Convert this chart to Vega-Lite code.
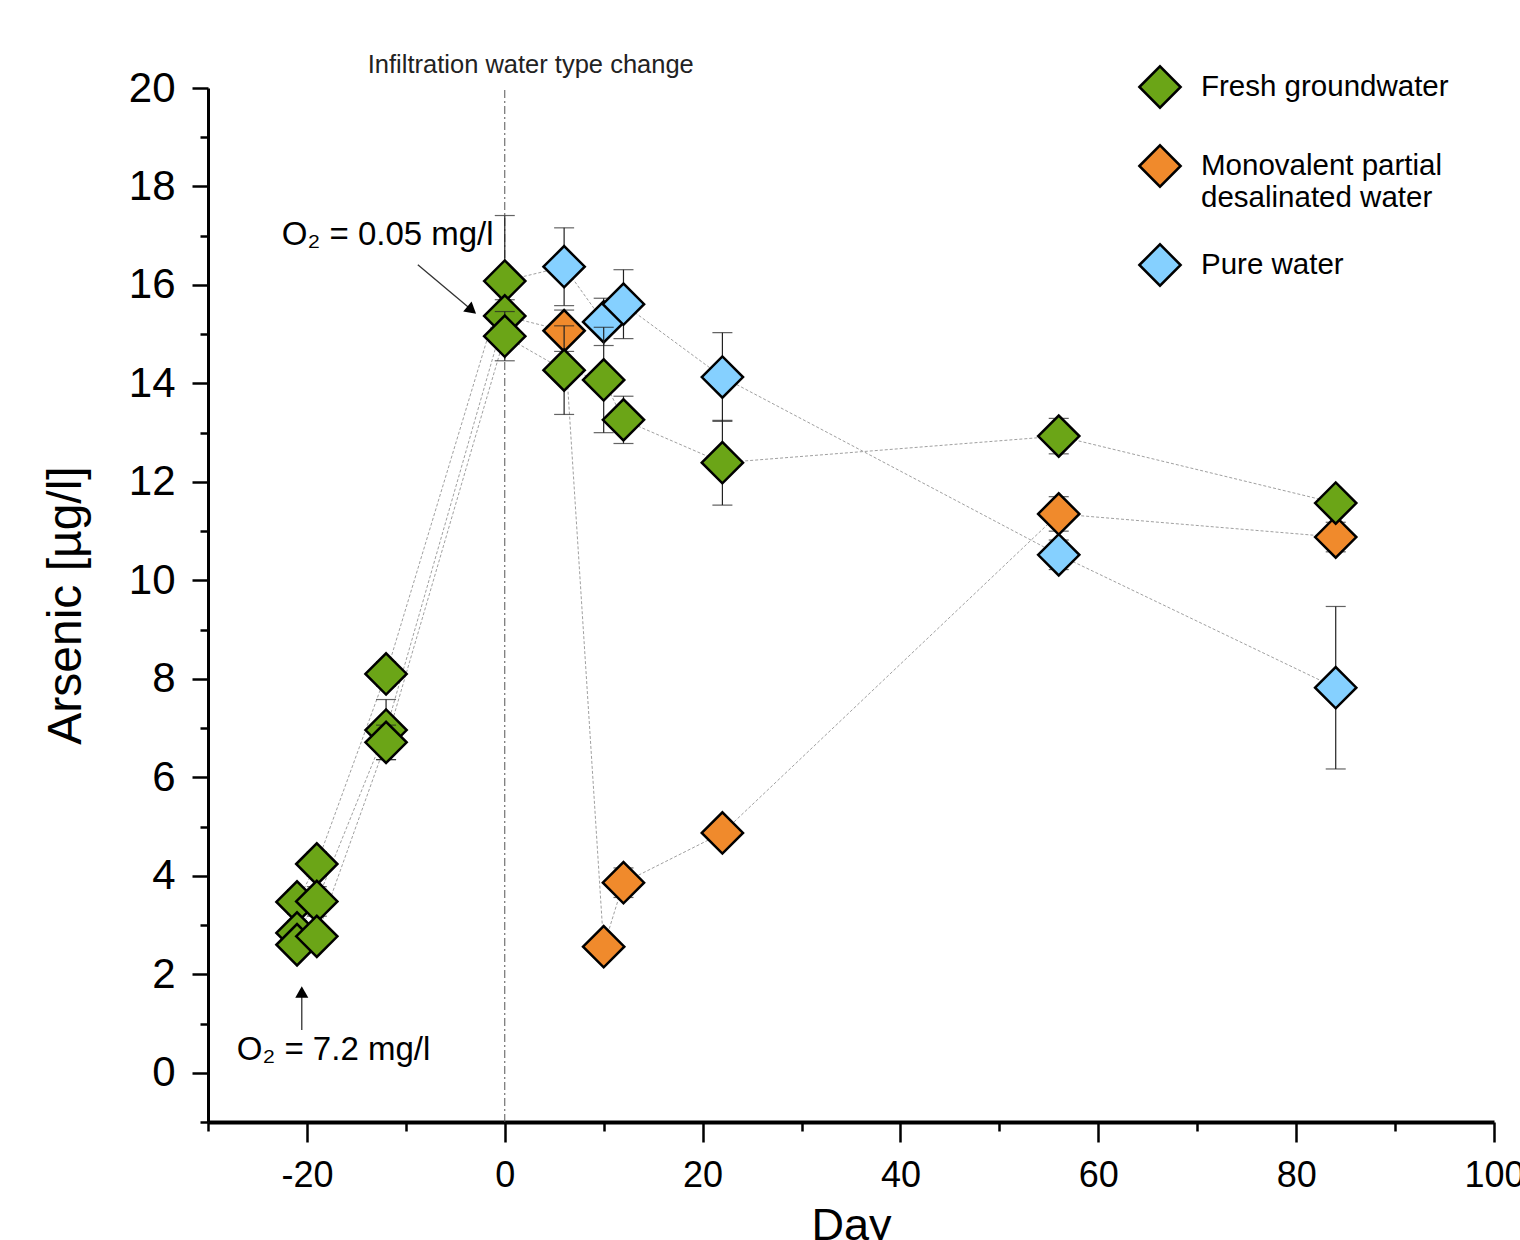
{
  "$schema": "https://vega.github.io/schema/vega-lite/v6.json",
  "width": 1286,
  "height": 1034,
  "autosize": "none",
  "padding": {"left": 208, "top": 88, "right": 26, "bottom": 118},
  "background": "white",
  "config": {"view": {"stroke": null}, "font": "Liberation Sans"},
  "datasets": {
    "obs": [
      {"series": "A", "type": "Fresh groundwater", "day": -21, "value": 3.47, "lo": 3.22, "hi": 3.72},
      {"series": "A", "type": "Fresh groundwater", "day": -19, "value": 4.24, "lo": 3.99, "hi": 4.49},
      {"series": "A", "type": "Fresh groundwater", "day": -12, "value": 8.10, "lo": 7.85, "hi": 8.35},
      {"series": "A", "type": "Fresh groundwater", "day": 0, "value": 16.08, "lo": 14.75, "hi": 17.41},
      {"series": "A", "type": "Pure water", "day": 6, "value": 16.37, "lo": 15.58, "hi": 17.16},
      {"series": "A", "type": "Pure water", "day": 10, "value": 15.25, "lo": 14.77, "hi": 15.73},
      {"series": "A", "type": "Pure water", "day": 12, "value": 15.61, "lo": 14.91, "hi": 16.31},
      {"series": "A", "type": "Pure water", "day": 22, "value": 14.13, "lo": 13.23, "hi": 15.03},
      {"series": "A", "type": "Pure water", "day": 56, "value": 10.52, "lo": 10.22, "hi": 10.82},
      {"series": "A", "type": "Pure water", "day": 84, "value": 7.82, "lo": 6.17, "hi": 9.47},
      {"series": "B", "type": "Fresh groundwater", "day": -21, "value": 2.84, "lo": 2.59, "hi": 3.09},
      {"series": "B", "type": "Fresh groundwater", "day": -19, "value": 3.48, "lo": 3.18, "hi": 3.78},
      {"series": "B", "type": "Fresh groundwater", "day": -12, "value": 6.96, "lo": 6.36, "hi": 7.58},
      {"series": "B", "type": "Fresh groundwater", "day": 0, "value": 15.37, "lo": 15.04, "hi": 15.70},
      {"series": "B", "type": "Monovalent partial desalinated water", "day": 6, "value": 15.07, "lo": 14.65, "hi": 15.49},
      {"series": "B", "type": "Monovalent partial desalinated water", "day": 10, "value": 2.56, "lo": 2.41, "hi": 2.71},
      {"series": "B", "type": "Monovalent partial desalinated water", "day": 12, "value": 3.86, "lo": 3.56, "hi": 4.16},
      {"series": "B", "type": "Monovalent partial desalinated water", "day": 22, "value": 4.87, "lo": 4.67, "hi": 5.07},
      {"series": "B", "type": "Monovalent partial desalinated water", "day": 56, "value": 11.35, "lo": 11.00, "hi": 11.70},
      {"series": "B", "type": "Monovalent partial desalinated water", "day": 84, "value": 10.88, "lo": 10.58, "hi": 11.18},
      {"series": "C", "type": "Fresh groundwater", "day": -21, "value": 2.60, "lo": 2.40, "hi": 2.80},
      {"series": "C", "type": "Fresh groundwater", "day": -19, "value": 2.77, "lo": 2.57, "hi": 2.97},
      {"series": "C", "type": "Fresh groundwater", "day": -12, "value": 6.71, "lo": 6.36, "hi": 7.06},
      {"series": "C", "type": "Fresh groundwater", "day": 0, "value": 14.96, "lo": 14.46, "hi": 15.46},
      {"series": "C", "type": "Fresh groundwater", "day": 6, "value": 14.27, "lo": 13.37, "hi": 15.17},
      {"series": "C", "type": "Fresh groundwater", "day": 10, "value": 14.07, "lo": 13.00, "hi": 15.14},
      {"series": "C", "type": "Fresh groundwater", "day": 12, "value": 13.26, "lo": 12.78, "hi": 13.74},
      {"series": "C", "type": "Fresh groundwater", "day": 22, "value": 12.39, "lo": 11.53, "hi": 13.25},
      {"series": "C", "type": "Fresh groundwater", "day": 56, "value": 12.93, "lo": 12.57, "hi": 13.29},
      {"series": "C", "type": "Fresh groundwater", "day": 84, "value": 11.57, "lo": 11.37, "hi": 11.77}
    ],
    "notes": [
      {"day": -22.54, "value": 17.02, "label": "O₂ = 0.05 mg/l"},
      {"day": -27.09, "value": 0.47, "label": "O₂ = 7.2 mg/l"}
    ],
    "arrows": [
      {"day": -8.79, "value": 16.41, "day2": -3.34, "value2": 15.49, "angle": 130},
      {"day": -20.52, "value": 0.87, "day2": -20.52, "value2": 1.64, "angle": 0}
    ],
    "change": [
      {"day": 0, "value": -1, "value2": 20, "label": "Infiltration water type change", "labelValue": 20.47, "labelDay": 2.63}
    ]
  },
  "resolve": {"axis": {"x": "independent", "y": "independent"}},
  "layer": [
    {
      "data": {"name": "change"},
      "mark": {"type": "rule", "color": "#555555", "strokeWidth": 1, "strokeDash": [8, 3, 2, 3]},
      "encoding": {
        "x": {"field": "day", "type": "quantitative", "scale": {"domain": [-30, 100], "nice": false, "zero": false},
          "axis": {"orient": "bottom", "values": [-20, 0, 20, 40, 60, 80, 100], "tickSize": 20, "tickWidth": 2.5, "tickColor": "black",
            "domainWidth": 4, "domainColor": "black", "labelFontSize": 36, "labelColor": "black", "labelPadding": 16, "labelFlush": false,
            "labelExpr": "replace(datum.label, '−', '-')",
            "grid": false, "title": "Day", "titleFontSize": 45, "titleFontWeight": "normal", "titleColor": "black", "titlePadding": 10}},
        "y": {"field": "value", "type": "quantitative", "scale": {"domain": [-1, 20], "nice": false, "zero": false},
          "axis": {"orient": "left", "values": [0, 2, 4, 6, 8, 10, 12, 14, 16, 18, 20], "tickSize": 16, "tickWidth": 2.5, "tickColor": "black",
            "domainWidth": 3, "domainColor": "black", "labelFontSize": 42, "labelColor": "black", "labelPadding": 17, "labelFlush": false,
            "grid": false, "title": "Arsenic [µg/l]", "titleFontSize": 48, "titleFontWeight": "normal", "titleColor": "black", "titlePadding": 38}},
        "y2": {"field": "value2"}
      }
    },
    {
      "data": {"name": "change"},
      "mark": {"type": "text", "fontSize": 25.5, "color": "#222222", "align": "center", "baseline": "middle"},
      "encoding": {
        "x": {"field": "labelDay", "type": "quantitative",
          "axis": {"orient": "bottom", "values": [-30, -10, 10, 30, 50, 70, 90], "tickSize": 9, "tickWidth": 2.5, "tickColor": "black",
            "domain": false, "labels": false, "grid": false, "title": null}},
        "y": {"field": "labelValue", "type": "quantitative",
          "axis": {"orient": "left", "values": [-1, 1, 3, 5, 7, 9, 11, 13, 15, 17, 19], "tickSize": 8, "tickWidth": 2.5, "tickColor": "black",
            "domain": false, "labels": false, "grid": false, "title": null}},
        "text": {"field": "label"}
      }
    },
    {
      "mark": {"type": "rule", "color": "black", "strokeWidth": 2, "strokeDash": [10, 6]},
      "encoding": {"y": {"datum": 10, "type": "quantitative", "axis": null}}
    },
    {
      "data": {"name": "obs"},
      "mark": {"type": "line", "color": "#a0a0a0", "strokeWidth": 1, "strokeDash": [3, 2]},
      "encoding": {
        "x": {"field": "day", "type": "quantitative", "axis": null},
        "y": {"field": "value", "type": "quantitative", "axis": null},
        "detail": {"field": "series"}
      }
    },
    {
      "data": {"name": "arrows"},
      "mark": {"type": "rule", "color": "#333333", "strokeWidth": 1.3},
      "encoding": {
        "x": {"field": "day", "type": "quantitative", "axis": null},
        "y": {"field": "value", "type": "quantitative", "axis": null},
        "x2": {"field": "day2"},
        "y2": {"field": "value2"}
      }
    },
    {
      "data": {"name": "arrows"},
      "mark": {"type": "point", "shape": "triangle-up", "filled": true, "color": "black", "size": 170, "opacity": 1},
      "encoding": {
        "x": {"field": "day2", "type": "quantitative", "axis": null},
        "y": {"field": "value2", "type": "quantitative", "axis": null},
        "angle": {"field": "angle", "type": "quantitative", "scale": null}
      }
    },
    {
      "data": {"name": "notes"},
      "mark": {"type": "text", "fontSize": 33, "color": "black", "align": "left", "baseline": "middle"},
      "encoding": {
        "x": {"field": "day", "type": "quantitative", "axis": null},
        "y": {"field": "value", "type": "quantitative", "axis": null},
        "text": {"field": "label"}
      }
    },
    {
      "data": {"name": "obs"},
      "transform": [{"filter": "datum.series == 'A'"}],
      "layer": [
        {"mark": {"type": "rule", "color": "#222222", "strokeWidth": 1.2},
          "encoding": {"x": {"field": "day", "type": "quantitative", "axis": null}, "y": {"field": "lo", "type": "quantitative", "axis": null}, "y2": {"field": "hi"}}},
        {"mark": {"type": "tick", "orient": "horizontal", "color": "#222222", "size": 20, "thickness": 1.2},
          "encoding": {"x": {"field": "day", "type": "quantitative", "axis": null}, "y": {"field": "lo", "type": "quantitative", "axis": null}}},
        {"mark": {"type": "tick", "orient": "horizontal", "color": "#222222", "size": 20, "thickness": 1.2},
          "encoding": {"x": {"field": "day", "type": "quantitative", "axis": null}, "y": {"field": "hi", "type": "quantitative", "axis": null}}},
        {"mark": {"type": "point", "shape": "diamond", "filled": true, "size": 1700, "stroke": "black", "strokeWidth": 2.5, "opacity": 1},
          "encoding": {"x": {"field": "day", "type": "quantitative", "axis": null}, "y": {"field": "value", "type": "quantitative", "axis": null},
            "color": {"field": "type", "type": "nominal",
              "scale": {"domain": ["Fresh groundwater", "Monovalent partial desalinated water", "Pure water"], "range": ["#6ba517", "#f08a2c", "#85d0ff"]},
              "legend": {"orient": "none", "legendX": 930, "legendY": -23, "title": null, "padding": 0, "symbolType": "diamond", "symbolSize": 1700,
                "symbolStrokeColor": "black", "symbolStrokeWidth": 2.5, "symbolOpacity": 1, "labelFontSize": 29.5, "labelColor": "black", "labelOffset": 19,
                "labelLimit": 600, "rowPadding": 27, "labelBaseline": "middle",
                "labelExpr": "datum.label == 'Monovalent partial desalinated water' ? ['Monovalent partial', 'desalinated water'] : datum.label"}}}}
      ]
    },
    {
      "data": {"name": "obs"},
      "transform": [{"filter": "datum.series == 'B'"}],
      "layer": [
        {"mark": {"type": "rule", "color": "#222222", "strokeWidth": 1.2},
          "encoding": {"x": {"field": "day", "type": "quantitative", "axis": null}, "y": {"field": "lo", "type": "quantitative", "axis": null}, "y2": {"field": "hi"}}},
        {"mark": {"type": "tick", "orient": "horizontal", "color": "#222222", "size": 20, "thickness": 1.2},
          "encoding": {"x": {"field": "day", "type": "quantitative", "axis": null}, "y": {"field": "lo", "type": "quantitative", "axis": null}}},
        {"mark": {"type": "tick", "orient": "horizontal", "color": "#222222", "size": 20, "thickness": 1.2},
          "encoding": {"x": {"field": "day", "type": "quantitative", "axis": null}, "y": {"field": "hi", "type": "quantitative", "axis": null}}},
        {"mark": {"type": "point", "shape": "diamond", "filled": true, "size": 1700, "stroke": "black", "strokeWidth": 2.5, "opacity": 1},
          "encoding": {"x": {"field": "day", "type": "quantitative", "axis": null}, "y": {"field": "value", "type": "quantitative", "axis": null},
            "color": {"field": "type", "type": "nominal"}}}
      ]
    },
    {
      "data": {"name": "obs"},
      "transform": [{"filter": "datum.series == 'C'"}],
      "layer": [
        {"mark": {"type": "rule", "color": "#222222", "strokeWidth": 1.2},
          "encoding": {"x": {"field": "day", "type": "quantitative", "axis": null}, "y": {"field": "lo", "type": "quantitative", "axis": null}, "y2": {"field": "hi"}}},
        {"mark": {"type": "tick", "orient": "horizontal", "color": "#222222", "size": 20, "thickness": 1.2},
          "encoding": {"x": {"field": "day", "type": "quantitative", "axis": null}, "y": {"field": "lo", "type": "quantitative", "axis": null}}},
        {"mark": {"type": "tick", "orient": "horizontal", "color": "#222222", "size": 20, "thickness": 1.2},
          "encoding": {"x": {"field": "day", "type": "quantitative", "axis": null}, "y": {"field": "hi", "type": "quantitative", "axis": null}}},
        {"mark": {"type": "point", "shape": "diamond", "filled": true, "size": 1700, "stroke": "black", "strokeWidth": 2.5, "opacity": 1},
          "encoding": {"x": {"field": "day", "type": "quantitative", "axis": null}, "y": {"field": "value", "type": "quantitative", "axis": null},
            "color": {"field": "type", "type": "nominal"}}}
      ]
    }
  ]
}
